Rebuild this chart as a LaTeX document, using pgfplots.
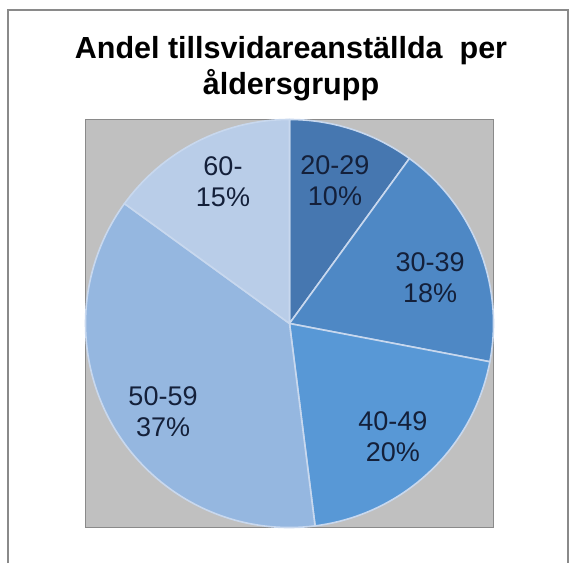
\documentclass[border=0pt]{standalone}
\usepackage{pgfplots}
\pgfplotsset{compat=1.18}
\usepackage{pgfplotstable}
\usepackage{fontspec}
\setmainfont{Liberation Sans}
\definecolor{pie0}{RGB}{70,119,176}
\definecolor{pie1}{RGB}{78,136,197}
\definecolor{pie2}{RGB}{88,152,214}
\definecolor{pie3}{RGB}{149,183,224}
\definecolor{pie4}{RGB}{185,205,232}
\definecolor{bggrey}{RGB}{192,192,192}
\definecolor{framegrey}{RGB}{138,138,138}
\definecolor{sepcol}{RGB}{200,216,238}
\definecolor{labcol}{RGB}{20,32,58}

% share (%) of each age group, and where its label sits (axis units)
\pgfplotstableread{
label pct lx ly
20-29 10 0.223 0.699
30-39 18 0.689 0.223
40-49 20 0.507 -0.556
50-59 37 -0.620 -0.434
60- 15 -0.326 0.694
}\piedata

% cumulative angles (clockwise from the top)
\xdef\startang{90}
\pgfplotsforeachungrouped \i in {0,...,4}{%
  \pgfplotstablegetelem{\i}{pct}\of\piedata
  \edef\thepct{\pgfplotsretval}%
  \pgfmathsetmacro\endang{\startang-3.6*\thepct}%
  \expandafter\xdef\csname sa\i\endcsname{\startang}%
  \expandafter\xdef\csname ea\i\endcsname{\endang}%
  \expandafter\xdef\csname pc\i\endcsname{\thepct}%
  \pgfplotstablegetelem{\i}{label}\of\piedata
  \expandafter\xdef\csname lab\i\endcsname{\pgfplotsretval}%
  \pgfplotstablegetelem{\i}{lx}\of\piedata
  \expandafter\xdef\csname lx\i\endcsname{\pgfplotsretval}%
  \pgfplotstablegetelem{\i}{ly}\of\piedata
  \expandafter\xdef\csname ly\i\endcsname{\pgfplotsretval}%
  \xdef\startang{\endang}%
}

\begin{document}
\begin{tikzpicture}[x=1pt,y=1pt]
\useasboundingbox (0,0) rectangle (572,563);
% outer frame
\draw[framegrey, line width=1.5pt] (8,0) -- (8,553) -- (568,553) -- (568,0);
% title
\node[anchor=base, font=\fontsize{30.5}{36}\selectfont\bfseries] at (291,504) {Andel tillsvidareanställda\ \ per};
\node[anchor=base, font=\fontsize{30.5}{36}\selectfont\bfseries] at (291,468) {åldersgrupp};
\begin{axis}[
  at={(289.5pt,239.5pt)}, anchor=center,
  scale only axis, width=408pt, height=408pt,
  xmin=-1, xmax=1, ymin=-1, ymax=1,
  ticks=none, clip=false,
  axis background/.style={fill=bggrey},
  axis line style={draw=framegrey, line width=1.5pt},
]
\pgfplotsinvokeforeach{0,...,4}{
  \filldraw[fill=pie#1, draw=sepcol, line width=1.6pt, line join=round]
    (axis cs:0,0) -- (axis cs:{cos(\csname sa#1\endcsname)},{sin(\csname sa#1\endcsname)})
    arc[start angle=\csname sa#1\endcsname, end angle=\csname ea#1\endcsname, radius=204pt] -- cycle;
}
\pgfplotsinvokeforeach{0,...,4}{
  \node[align=center, text=labcol, font=\fontsize{27}{31}\selectfont]
    at (axis cs:{\csname lx#1\endcsname},{\csname ly#1\endcsname})
    {\csname lab#1\endcsname\\\csname pc#1\endcsname\%};
}
\end{axis}
\end{tikzpicture}
\end{document}
